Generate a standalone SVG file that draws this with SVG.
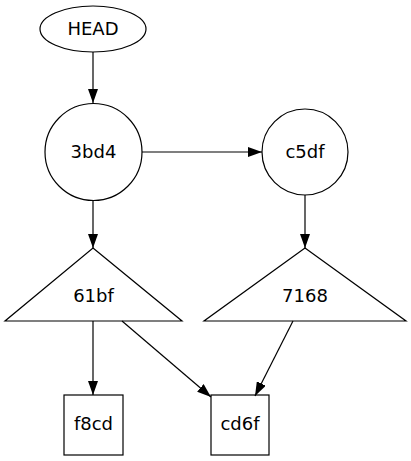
<svg xmlns="http://www.w3.org/2000/svg" width="411" height="461" viewBox="0 0 411 461">
<defs>
<style>
.n{fill:none;stroke:#000;stroke-width:1.2}
.t{font-family:"DejaVu Sans",sans-serif;font-size:18px;text-anchor:middle;fill:#000}
.e{fill:none;stroke:#000;stroke-width:1.2}
</style>
<marker id="a" markerWidth="14" markerHeight="10" refX="14" refY="5" orient="auto" markerUnits="userSpaceOnUse"><path d="M0,0L14,5L0,10z" fill="#000"/></marker>
</defs>
<rect width="411" height="461" fill="#fff"/>
<g id="edges">
<line class="e" x1="93" y1="52" x2="93" y2="103" marker-end="url(#a)"/>
<line class="e" x1="142" y1="152" x2="262" y2="152" marker-end="url(#a)"/>
<line class="e" x1="93" y1="200" x2="93" y2="248" marker-end="url(#a)"/>
<line class="e" x1="305" y1="195" x2="305" y2="248" marker-end="url(#a)"/>
<line class="e" x1="93" y1="321" x2="93" y2="395" marker-end="url(#a)"/>
<line class="e" x1="122" y1="321" x2="211" y2="397" marker-end="url(#a)"/>
<line class="e" x1="293" y1="321" x2="255" y2="396" marker-end="url(#a)"/>
</g>
<g id="HEAD"><ellipse class="n" cx="93" cy="29" rx="53" ry="23"/><text class="t" x="93" y="35">HEAD</text></g>
<g id="n3bd4"><circle class="n" cx="93.5" cy="152" r="48.5"/><text class="t" x="93.5" y="158">3bd4</text></g>
<g id="c5df"><circle class="n" cx="305" cy="152" r="43"/><text class="t" x="305" y="158">c5df</text></g>
<g id="n61bf"><polygon class="n" points="93,248 182,321 5,321"/><text class="t" x="93.5" y="302">61bf</text></g>
<g id="n7168"><polygon class="n" points="305,248 406,321 204,321"/><text class="t" x="305" y="302">7168</text></g>
<g id="f8cd"><rect class="n" x="64" y="395" width="59" height="60"/><text class="t" x="93.5" y="430">f8cd</text></g>
<g id="cd6f"><rect class="n" x="211" y="395" width="58" height="60"/><text class="t" x="240" y="430">cd6f</text></g>
</svg>
